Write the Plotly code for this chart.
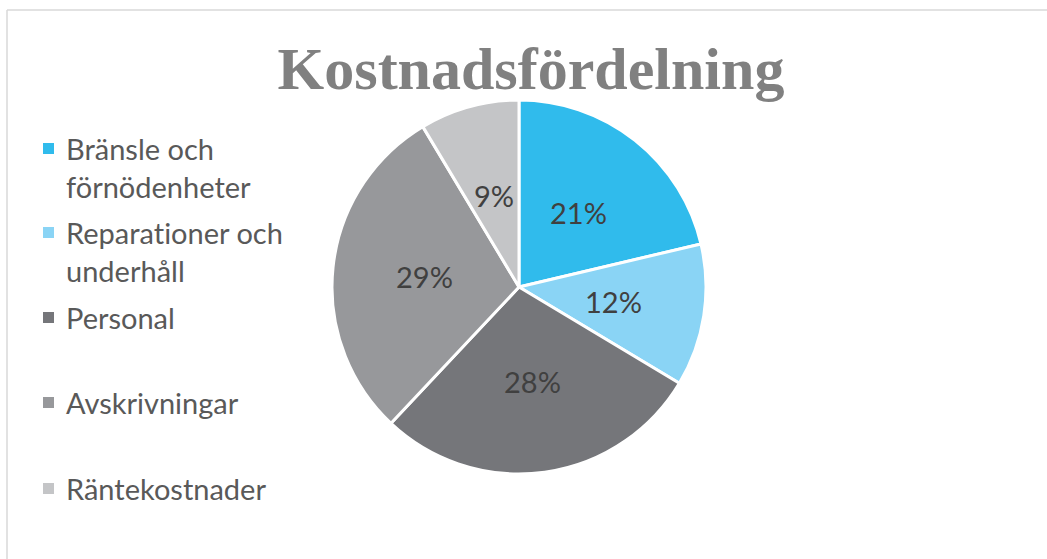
import math
import plotly.graph_objects as go

categories = ["Bränsle och förnödenheter", "Reparationer och underhåll", "Personal", "Avskrivningar", "Räntekostnader"]
legend_labels = ["Bränsle och<br>förnödenheter", "Reparationer och<br>underhåll", "Personal", "Avskrivningar", "Räntekostnader"]
values = [21.3, 12.3, 28.4, 29.4, 8.6]
colors = ["#30bbec", "#8ad4f5", "#75767a", "#97989b", "#c4c5c7"]
title_text = "Kostnadsfördelning"

W, H = 1047, 559
CX, CY, R = 519, 287, 187
FONT = "Lato, Carlito, sans-serif"

fig = go.Figure()
fig.add_trace(go.Pie(
    labels=categories,
    values=values,
    sort=False,
    direction="clockwise",
    rotation=0,
    marker=dict(colors=colors, line=dict(color="white", width=3)),
    textinfo="none",
    domain=dict(x=[(CX - R) / W, (CX + R) / W], y=[(H - CY - R) / H, (H - CY + R) / H]),
    showlegend=False,
    hoverinfo="label+percent",
))

shapes = [
    dict(type="line", xref="paper", yref="paper", x0=7 / W, x1=1.0, y0=1 - 10 / H, y1=1 - 10 / H,
         line=dict(color="#d9d9d9", width=1.5)),
    dict(type="line", xref="paper", yref="paper", x0=7 / W, x1=7 / W, y0=0, y1=1 - 10 / H,
         line=dict(color="#d9d9d9", width=1.5)),
]
annotations = []

# percentage labels at half radius, mid-angle of each slice
total = sum(values)
cum = 0.0
for v in values:
    mid = (cum + v / 2) / total * 2 * math.pi
    cum += v
    px = CX + 0.51 * R * math.sin(mid)
    py = CY - 0.51 * R * math.cos(mid)
    annotations.append(dict(
        text=f"{round(v / total * 100)}%", xref="paper", yref="paper",
        x=px / W, y=1 - py / H, xanchor="center", yanchor="middle", showarrow=False,
        font=dict(family=FONT, size=29, color="#404040"),
    ))

# manual legend built from categories
legend_y = [148, 232, 317, 402, 488]
for lab, col, yc in zip(legend_labels, colors, legend_y):
    shapes.append(dict(type="rect", xref="paper", yref="paper",
                       x0=43 / W, x1=54 / W, y0=1 - (yc + 6) / H, y1=1 - (yc - 5) / H,
                       fillcolor=col, line=dict(width=0)))
    annotations.append(dict(
        text=lab, xref="paper", yref="paper", x=64 / W,
        y=1 - (yc - 19) / H, xanchor="left", yanchor="top", align="left", showarrow=False,
        font=dict(family=FONT, size=29, color="#595959"),
    ))

fig.update_layout(
    width=W, height=H,
    margin=dict(l=0, r=0, t=0, b=0),
    paper_bgcolor="white", plot_bgcolor="white",
    title=dict(text="<b>" + title_text + "</b>", x=531 / W, xanchor="center",
               y=1 - 68 / H, yanchor="middle",
               font=dict(family="Liberation Serif, serif", size=60, color="#808080")),
    shapes=shapes,
    annotations=annotations,
)
post = (
    "document.body.style.margin='0';document.body.style.padding='0';"
    "var s=document.createElement('style');"
    "s.textContent='text{font-variant-ligatures:none;font-feature-settings:\"liga\" 0;}';"
    "document.head.appendChild(s);"
)
fig.write_html("out.html", post_script=post, config={"displayModeBar": False})
